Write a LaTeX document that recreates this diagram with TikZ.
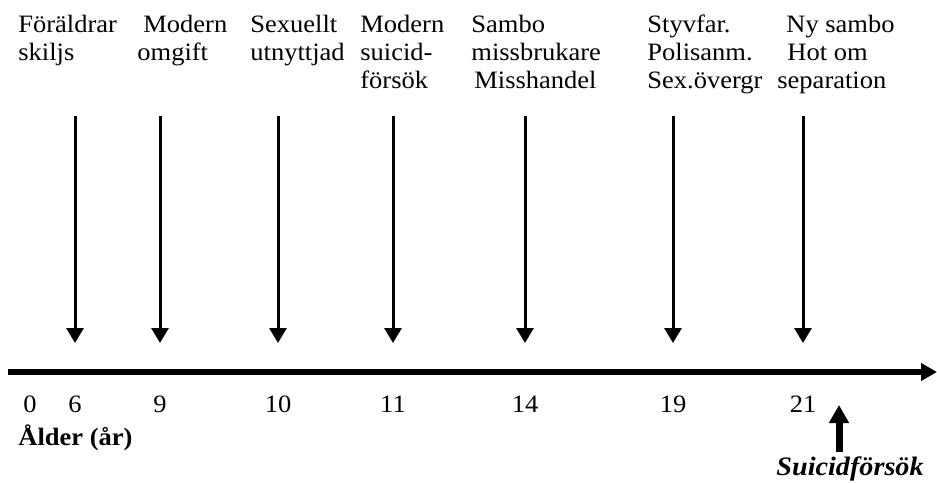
\documentclass[tikz,border=0pt]{standalone}
\usepackage{fontspec}
\setmainfont{Liberation Serif}[FakeStretch=1.06]
\usetikzlibrary{arrows.meta}
\begin{document}
\begin{tikzpicture}[x=0.5pt,y=-0.5pt,
  axisline/.style={line width=3pt,-{Triangle[length=8pt,width=8.5pt]}},
  eventarrow/.style={line width=1.5pt,-{Triangle[length=7.5pt,width=8.5pt]}},
  outcome/.style={line width=3.5pt,-{Triangle[length=9pt,width=9.5pt]}},
  lbl/.style={anchor=north west,inner sep=0pt,align=left,
    font=\fontsize{12.5}{14}\selectfont},
  agelbl/.style={anchor=base,inner sep=0pt,font=\fontsize{12.5}{14}\selectfont}]
\useasboundingbox (0,0) rectangle (937,482);

% time axis
\coordinate (axstart) at (8,372);
\coordinate (axend) at (937,372);
\draw[axisline] (axstart) -- (axend);

% events (arrow from label down to the axis)
\foreach \n/\x in {6/75,9/160,10/278,11/393,14/525,19/673,21/803}{
  \coordinate (top\n) at (\x,116);
  \coordinate (tip\n) at (\x,343);
  \draw[eventarrow] (top\n) -- (tip\n);
  \node[agelbl] (age\n) at (\x,412) {\n};
}
\node[agelbl] (age0) at (30,412) {0};

% event texts
\node[lbl] (ev6)  at (18,12.4)  {\strut Föräldrar\\skiljs};
\node[lbl] (ev9)  at (137,12.4) {\strut\hspace{3pt}Modern\\omgift};
\node[lbl] (ev10) at (250,12.4) {\strut Sexuellt\\utnyttjad};
\node[lbl] (ev11) at (360,12.4) {\strut Modern\\suicid-\\försök};
\node[lbl] (ev14) at (471,12.4) {\strut Sambo\\missbrukare\\\hspace{1.5pt}Misshandel};
\node[lbl] (ev19) at (647,12.4) {\strut Styvfar.\\Polisanm.\\Sex.övergr};
\node[lbl] (ev21) at (777,12.4) {\strut\hspace{4.5pt}Ny sambo\\\hspace{5pt}Hot om\\separation};

% axis caption
\node[anchor=base west,inner sep=0pt,font=\fontsize{12.5}{14}\selectfont\bfseries]
  (agecap) at (18,445) {Ålder (år)};

% outcome
\coordinate (outbot) at (839,452);
\coordinate (outtip) at (839,405);
\draw[outcome] (outbot) -- (outtip);
\node[anchor=base west,inner sep=0pt,font=\fontsize{13.3}{14}\selectfont\bfseries\itshape]
  (outtxt) at (776,475) {Suicidförsök};
\end{tikzpicture}
\end{document}
